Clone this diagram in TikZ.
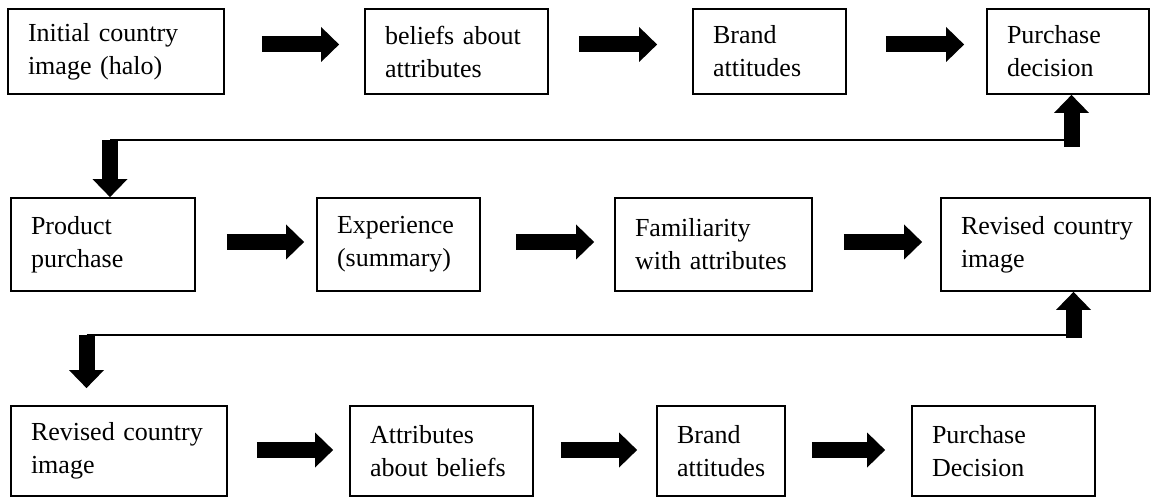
\documentclass[tikz,border=0pt]{standalone}
\usepackage{fontspec}
\setmainfont{Liberation Serif}
\usetikzlibrary{arrows.meta}
\hyphenpenalty=10000
\tikzstyle{box} = [rectangle, draw=black, line width=1.8pt, inner xsep=20pt, align=left, font=\fontsize{26}{33}\selectfont]
\tikzstyle{arrow} = [line width=16pt, -{Triangle[length=18pt,width=35pt,line width=0pt]}]
\tikzstyle{link} = [line width=2pt]
\begin{document}
\begin{tikzpicture}[x=1pt,y=-1pt]
\useasboundingbox (0,0) rectangle (1158,502);
\node (img1) [box, text width=176pt, minimum height=85pt] at (116,51.5) {Initial~country\\image~(halo)};
\node (bel1) [box, text width=143pt, minimum height=85pt] at (456.5,51.5) {beliefs~about\\attributes};
\node (att1) [box, text width=113pt, minimum height=85pt] at (769.5,51.5) {Brand\\attitudes};
\node (dec1) [box, text width=122pt, minimum height=85pt] at (1068,51.5) {Purchase\\decision};
\node (pur) [box, text width=144pt, minimum height=93pt] at (103,244.5) {Product\\purchase};
\node (exp) [box, text width=123pt, minimum height=93pt] at (398.5,244.5) {Experience\\(summary)};
\node (fam) [box, text width=157pt, minimum height=93pt] at (713.5,244.5) {Familiarity\\with~attributes};
\node (img2) [box, text width=169pt, minimum height=93pt] at (1045.5,244.5) {Revised~country\\image};
\node (img3) [box, text width=176pt, minimum height=90pt] at (119,451) {Revised~country\\image};
\node (bel2) [box, text width=143pt, minimum height=90pt] at (441.5,451) {Attributes\\about~beliefs};
\node (att2) [box, text width=88pt, minimum height=90pt] at (721,451) {Brand\\attitudes};
\node (dec2) [box, text width=143pt, minimum height=90pt] at (1003.5,451) {Purchase\\Decision};
\draw [arrow, shorten <=37pt, shorten >=25pt] ([yshift=7pt]img1.east) -- ([yshift=7pt]bel1.west);
\draw [arrow, shorten <=30pt, shorten >=35pt] ([yshift=7pt]bel1.east) -- ([yshift=7pt]att1.west);
\draw [arrow, shorten <=39pt, shorten >=22pt] ([yshift=7pt]att1.east) -- ([yshift=7pt]dec1.west);
\draw [arrow, shorten <=31pt, shorten >=12pt] ([yshift=2.5pt]pur.east) -- ([yshift=2.5pt]exp.west);
\draw [arrow, shorten <=35pt, shorten >=20pt] ([yshift=2.5pt]exp.east) -- ([yshift=2.5pt]fam.west);
\draw [arrow, shorten <=31pt, shorten >=18pt] ([yshift=2.5pt]fam.east) -- ([yshift=2.5pt]img2.west);
\draw [arrow, shorten <=29pt, shorten >=16pt] ([yshift=1pt]img3.east) -- ([yshift=1pt]bel2.west);
\draw [arrow, shorten <=27pt, shorten >=19pt] ([yshift=1pt]bel2.east) -- ([yshift=1pt]att2.west);
\draw [arrow, shorten <=26pt, shorten >=26pt] ([yshift=1pt]att2.east) -- ([yshift=1pt]dec2.west);
\coordinate (d1) at (110,140);
\coordinate (u1) at (1071.5,147);
\coordinate (d2) at (86.5,335);
\coordinate (u2) at (1073.5,338);
\draw [link] (d1) -- (d1 -| u1);
\draw [arrow] (u1) -- (u1 |- dec1.south);
\draw [arrow] (d1) -- (d1 |- pur.north);
\draw [link] (d2) -- (d2 -| u2);
\draw [arrow] (u2) -- (u2 |- img2.south);
\draw [arrow, shorten >=17pt] (d2) -- (d2 |- img3.north);
\end{tikzpicture}
\end{document}
